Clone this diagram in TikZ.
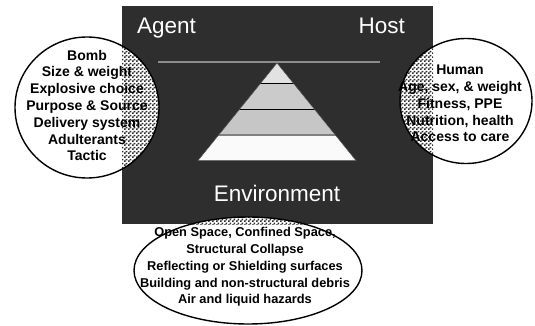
\documentclass[tikz,border=0pt]{standalone}
\usepackage{fontspec}
\setmainfont{Liberation Sans}
\usetikzlibrary{patterns.meta}

\definecolor{panel}{HTML}{2E2E2E}
\definecolor{rule}{HTML}{8C8C8C}
\definecolor{bandA}{HTML}{E2E2E2}
\definecolor{bandB}{HTML}{CBCBCB}
\definecolor{bandC}{HTML}{C6C6C6}
\definecolor{bandD}{HTML}{FAFAFA}

% fine two-pixel checkerboard for the see-through parts of the bubbles
\pgfdeclarepattern{
  name=finechecks,
  type=uncolored,
  bottom left={\pgfpoint{0pt}{0pt}},
  top right={\pgfpoint{4pt}{4pt}},
  tile size={\pgfpoint{4pt}{4pt}},
  code={
    \pgfpathrectangle{\pgfpoint{0pt}{0pt}}{\pgfpoint{2pt}{2pt}}
    \pgfpathrectangle{\pgfpoint{2pt}{2pt}}{\pgfpoint{2pt}{2pt}}
    \pgfusepath{fill}
  }
}

\tikzset{
  title/.style={text=white, font=\fontsize{22.5}{26}\selectfont, inner sep=0pt},
  bubble/.style={draw=black, line width=1.4pt},
  bubbletext/.style={align=center, inner sep=0pt,
    font=\fontsize{14}{16.8}\selectfont\bfseries},
  smalltext/.style={align=center, inner sep=0pt,
    font=\fontsize{12.8}{16.7}\selectfont\bfseries},
  checks/.style={pattern={finechecks}, pattern color=panel},
}

\begin{document}
\begin{tikzpicture}[x=1pt, y=-1pt]
  \useasboundingbox (0,0) rectangle (535,326);

  % dark panel
  \fill[panel] (122,6) rectangle (433,224);
  \coordinate (ruleL) at (158,62);
  \coordinate (ruleR) at (380,62);
  \draw[rule, line width=1.6pt] (ruleL) -- (ruleR);

  % pyramid
  \coordinate (apex) at (277,63);
  \coordinate (baseL) at (198,160.5);
  \coordinate (baseR) at (356,160.5);
  \begin{scope}
    \clip (apex) -- (baseL) -- (baseR) -- cycle;
    \fill[bandA] (190,60) rectangle (365,83.3);
    \fill[bandB] (190,83.3) rectangle (365,109.3);
    \fill[bandC] (190,109.3) rectangle (365,134.7);
    \fill[bandD] (190,134.7) rectangle (365,165);
    \draw[black, line width=1.1pt] (190,83.3) -- (365,83.3);
    \draw[black, line width=1.1pt] (190,109.3) -- (365,109.3);
    \draw[gray, line width=2pt] (190,134.7) -- (365,134.7);
  \end{scope}
  \draw[black!70, line width=0.5pt] (apex) -- (baseL) -- (baseR) -- cycle;

  % panel titles
  \node[title, anchor=base west] (agent) at (137,34) {Agent};
  \node[title, anchor=base east] (host) at (405,34) {Host};
  \node[title, anchor=base] (env) at (277,201.5) {Environment};

  % bubbles
  \coordinate (cA) at (87,107.5);
  \coordinate (cH) at (466,101);
  \coordinate (cE) at (248,270.5);

  \fill[white] (cA) ellipse [x radius=72, y radius=70.5];
  \fill[white] (cH) ellipse [x radius=66, y radius=62.5];
  \fill[white] (cE) ellipse [x radius=114, y radius=53.5];
  \begin{scope}
    \clip (122,6) rectangle (433,224);
    \fill[checks] (cA) ellipse [x radius=72, y radius=70.5];
    \fill[checks] (cH) ellipse [x radius=66, y radius=62.5];
    \fill[checks] (cE) ellipse [x radius=114, y radius=53.5];
  \end{scope}
  \draw[bubble] (cA) ellipse [x radius=72, y radius=70.5];
  \draw[bubble] (cH) ellipse [x radius=66, y radius=62.5];
  \draw[bubble] (cE) ellipse [x radius=114, y radius=53.5];

  \node[bubbletext] (agentlist) at (87,105.5)
    {Bomb\\Size \& weight\\Explosive choice\\Purpose \& Source\\Delivery system\\Adulterants\\Tactic};
  \node[bubbletext] (hostlist) at (460,103.5)
    {Human\\Age, sex, \& weight\\Fitness, PPE\\Nutrition, health\\Access to care};
  \node[smalltext] (envlist) at (245,267)
    {Open Space, Confined Space,\\Structural Collapse\\Reflecting or Shielding surfaces\\Building and non-structural debris\\Air and liquid hazards};
\end{tikzpicture}
\end{document}
